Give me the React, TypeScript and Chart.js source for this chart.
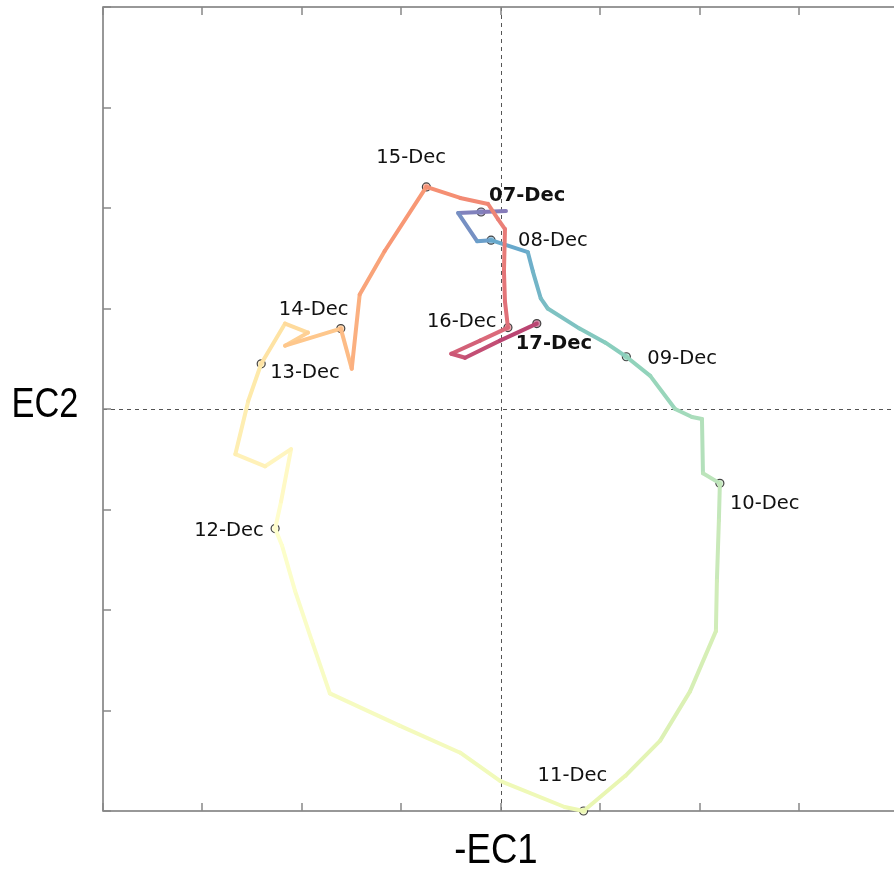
import React, { useEffect, useRef } from "react";
import { Chart, registerables } from "chart.js";

Chart.register(...registerables);

// trajectory (-EC1, EC2)
const ec1 = [
  0.05, -0.2, -0.43, -0.24, -0.1, 0.27, 0.32, 0.4, 0.47, 0.79, 1.05, 1.26, 1.5, 1.75, 1.92, 2.02, 2.03, 2.2,
  2.19, 2.17, 2.16, 1.9, 1.6, 1.25, 0.83, 0.64, -0.01, -0.41, -1.02, -1.72, -1.9, -2.07, -2.2, -2.27, -2.21,
  -2.11, -2.37, -2.67, -2.54, -2.41, -2.17, -1.94, -2.17, -1.61, -1.5, -1.42, -1.17, -0.75, -0.41, -0.13,
  -0.03, 0.04, 0.03, 0.04, 0.07, -0.21, -0.5, -0.36, -0.01, 0.36,
];
const ec2 = [
  1.97, 1.96, 1.95, 1.67, 1.68, 1.56, 1.37, 1.1, 1.0, 0.8, 0.66, 0.52, 0.33, 0.0, -0.08, -0.1, -0.64, -0.74,
  -1.11, -1.71, -2.21, -2.81, -3.3, -3.65, -4.0, -3.96, -3.7, -3.42, -3.15, -2.83, -2.31, -1.81, -1.36, -1.19,
  -0.92, -0.4, -0.57, -0.45, 0.08, 0.45, 0.85, 0.76, 0.63, 0.8, 0.4, 1.14, 1.57, 2.21, 2.1, 2.04, 1.89, 1.79,
  1.37, 1.07, 0.81, 0.68, 0.55, 0.51, 0.68, 0.85,
];
// index of each daily marker in the trajectory
const dayIndex = [1, 4, 11, 17, 24, 33, 39, 43, 47, 54, 59];
const dayLabels = ["07-Dec", "08-Dec", "09-Dec", "10-Dec", "11-Dec", "12-Dec", "13-Dec", "14-Dec", "15-Dec", "16-Dec", "17-Dec"];
const boldDays = ["07-Dec", "17-Dec"];
const xTicks = [-4, -3, -2, -1, 0, 1, 2, 3];
const yTicks = [-4, -3, -2, -1, 0, 1, 2, 3, 4];

// label placement (pixel offsets from marker: text left, text middle)
const labelOffsets: [number, number][] = [
  [8, -16], [27, 1], [21, 2], [10, 21], [-46, -35], [-81, 2], [9, 9], [-62, -19], [-50, -29], [-81, -6], [-21, 20],
];

const spectral = ["#5e4fa2", "#3288bd", "#66c2a5", "#abdda4", "#e6f598", "#ffffbf", "#fee08b", "#fdae61", "#f46d43", "#d53e4f", "#9e0142"];

function hexToRgb(h: string) {
  return [parseInt(h.slice(1, 3), 16), parseInt(h.slice(3, 5), 16), parseInt(h.slice(5, 7), 16)];
}
// colour from the map, blended over white (opaque) so segment joins stay clean
function cmap(t: number, a: number) {
  const tt = Math.max(0, Math.min(1, t)) * (spectral.length - 1);
  const i = Math.min(spectral.length - 2, Math.floor(tt));
  const f = tt - i;
  const c0 = hexToRgb(spectral[i]);
  const c1 = hexToRgb(spectral[i + 1]);
  const c = c0.map((v, k) => Math.round((v + (c1[k] - v) * f) * a + 255 * (1 - a)));
  return `rgb(${c[0]},${c[1]},${c[2]})`;
}
function timeAt(j: number) {
  if (j <= dayIndex[0]) return 0;
  for (let d = 0; d < dayIndex.length - 1; d++) {
    const a = dayIndex[d];
    const b = dayIndex[d + 1];
    if (j <= b) return (d + (j - a) / (b - a)) / (dayIndex.length - 1);
  }
  return 1;
}

export default function App() {
  const ref = useRef<HTMLCanvasElement | null>(null);
  useEffect(() => {
    if (!ref.current) return;
    const path = ec1.map((x, i) => ({ x, y: ec2[i] }));
    const marks = dayIndex.map((i) => ({ x: ec1[i], y: ec2[i] }));

    const framePlugin = {
      id: "frame",
      beforeDatasetsDraw(chart: any) {
        const { ctx, chartArea: ca, scales } = chart;
        const xs = scales.x;
        const ys = scales.y;
        ctx.save();
        ctx.strokeStyle = "#555";
        ctx.lineWidth = 1;
        ctx.setLineDash([4, 4]);
        const x0 = Math.round(xs.getPixelForValue(0)) + 0.5;
        const y0 = Math.round(ys.getPixelForValue(0)) + 0.5;
        ctx.beginPath();
        ctx.moveTo(x0, ca.top);
        ctx.lineTo(x0, ca.bottom);
        ctx.moveTo(ca.left, y0);
        ctx.lineTo(ca.right, y0);
        ctx.stroke();
        ctx.setLineDash([]);
        // border
        ctx.strokeStyle = "#777";
        ctx.lineWidth = 1.5;
        ctx.beginPath();
        ctx.moveTo(ca.right, ca.top);
        ctx.lineTo(ca.left, ca.top);
        ctx.lineTo(ca.left, ca.bottom);
        ctx.lineTo(ca.right, ca.bottom);
        ctx.stroke();
        // ticks
        ctx.strokeStyle = "#888";
        ctx.lineWidth = 1.5;
        ctx.beginPath();
        xTicks.forEach((v) => {
          const p = Math.round(xs.getPixelForValue(v));
          ctx.moveTo(p, ca.top);
          ctx.lineTo(p, ca.top + 8);
          ctx.moveTo(p, ca.bottom);
          ctx.lineTo(p, ca.bottom - 8);
        });
        yTicks.forEach((v) => {
          const p = Math.round(ys.getPixelForValue(v));
          ctx.moveTo(ca.left, p);
          ctx.lineTo(ca.left + 8, p);
        });
        ctx.stroke();
        // axis titles
        ctx.fillStyle = "#000";
        ctx.font = '43px "Liberation Sans", Arial, sans-serif';
        ctx.textBaseline = "middle";
        ctx.textAlign = "center";
        ctx.save();
        ctx.translate(45, ys.getPixelForValue(0) - 4);
        ctx.scale(0.8, 1);
        ctx.fillText("EC2", 0, 0);
        ctx.restore();
        ctx.save();
        ctx.translate(xs.getPixelForValue(0) - 5, 851);
        ctx.scale(0.85, 1);
        ctx.fillText("-EC1", 0, 0);
        ctx.restore();
        ctx.restore();
      },
      afterDatasetsDraw(chart: any) {
        const { ctx, scales } = chart;
        ctx.save();
        ctx.fillStyle = "#111";
        ctx.textBaseline = "middle";
        ctx.textAlign = "left";
        dayLabels.forEach((lab, d) => {
          const i = dayIndex[d];
          const px = scales.x.getPixelForValue(ec1[i]);
          const py = scales.y.getPixelForValue(ec2[i]);
          const bold = boldDays.includes(lab);
          ctx.font = `${bold ? "bold " : ""}19.5px "DejaVu Sans", sans-serif`;
          ctx.fillText(lab, px + labelOffsets[d][0], py + labelOffsets[d][1]);
        });
        ctx.restore();
      },
    };

    const chart = new Chart(ref.current, {
      type: "scatter",
      data: {
        datasets: [
          {
            data: path,
            showLine: true,
            pointRadius: 0,
            borderWidth: 4,
            borderJoinStyle: "round",
            borderCapStyle: "round",
            borderColor: cmap(0, 0.75),
            segment: {
              borderColor: (c: any) => cmap(timeAt(c.p0DataIndex + 0.5), 0.75),
            },
            clip: false,
          } as any,
          {
            data: marks,
            pointRadius: 4,
            pointBorderWidth: 1.2,
            pointBorderColor: "#444",
            pointBackgroundColor: dayIndex.map((_, d) => cmap(d / (dayIndex.length - 1), 0.45)),
            clip: false,
          } as any,
        ],
      },
      options: {
        animation: false,
        responsive: false,
        devicePixelRatio: 1,
        layout: { autoPadding: false, padding: { left: 103, top: 7, right: 0, bottom: 63 } },
        plugins: { legend: { display: false }, tooltip: { enabled: false } },
        scales: {
          x: { type: "linear", min: -4, max: 3.95, display: false },
          y: { type: "linear", min: -4, max: 4, display: false },
        },
      } as any,
      plugins: [framePlugin],
    });
    return () => chart.destroy();
  }, []);
  return (
    <div style={{ position: "absolute", left: 0, top: 0, width: 894, height: 874, background: "#fff" }}>
      <canvas ref={ref} width={894} height={874} style={{ display: "block" }} />
    </div>
  );
}
